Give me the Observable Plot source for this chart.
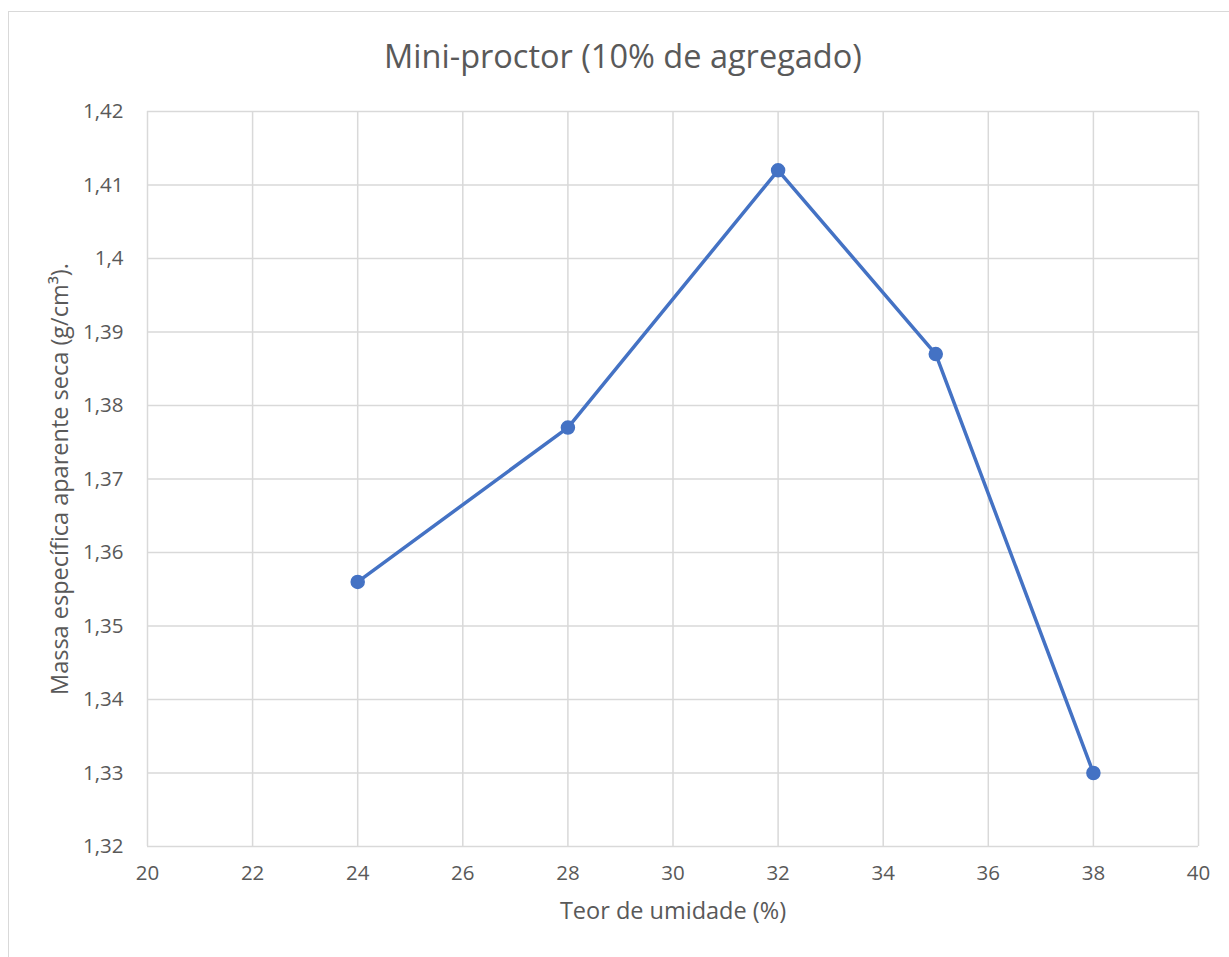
<!DOCTYPE html>
<html>
<head>
<meta charset="utf-8">
<script src="https://cdn.jsdelivr.net/npm/d3@7"></script>
<script src="https://cdn.jsdelivr.net/npm/@observablehq/plot@0.6"></script>
<style>
  html, body { margin: 0; padding: 0; background: #fff; overflow: hidden; }
  #wrap { position: relative; width: 1229px; height: 957px; font-family: "Open Sans", sans-serif; color: #595959; }
  #frame { position: absolute; left: 8px; top: 11px; width: 1240px; height: 970px; border: 1.5px solid #d9d9d9; box-sizing: border-box; }
  #title { position: absolute; left: 0; width: 1246px; top: 34px; text-align: center; font-size: 32.5px; line-height: 44px; color: #595959; }
  #chart { position: absolute; left: 0; top: 0; }
  #chart g[aria-label="x-axis tick label"] text,
  #chart g[aria-label="y-axis tick label"] text { font-size: 20.5px; }
</style>
</head>
<body>
<div id="wrap">
  <div id="frame"></div>
  <div id="chart"></div>
  <div id="title">Mini-proctor (10% de agregado)</div>
</div>
<script>
const moisture = [24, 28, 32, 35, 38];
const density = [1.356, 1.377, 1.412, 1.387, 1.330];
const xTicks = [20, 22, 24, 26, 28, 30, 32, 34, 36, 38, 40];
const yTicks = [1.32, 1.33, 1.34, 1.35, 1.36, 1.37, 1.38, 1.39, 1.40, 1.41, 1.42];

const data = moisture.map((m, i) => ({x: m, y: density[i]}));
const fmtY = d => (Math.round(d * 100) / 100).toString().replace(".", ",");
const color = "#4472C4";
const gridColor = "#d9d9d9";

const plot = Plot.plot({
  width: 1229,
  height: 957,
  marginLeft: 147,
  marginRight: 31,
  marginTop: 111,
  marginBottom: 111,
  style: { fontFamily: "Open Sans, sans-serif", fontSize: "20px", color: "#595959", background: "transparent" },
  x: { domain: [20, 40], ticks: xTicks, label: null },
  y: { domain: [1.32, 1.42], ticks: yTicks, label: null },
  marks: [
    Plot.gridX(xTicks, { stroke: gridColor, strokeOpacity: 1, strokeWidth: 1.5 }),
    Plot.gridY(yTicks, { stroke: gridColor, strokeOpacity: 1, strokeWidth: 1.5 }),
    Plot.axisX(xTicks, { tickSize: 0, tickPadding: 19, fontSize: 20.5, fill: "#595959", label: null }),
    Plot.axisY(yTicks, { tickSize: 0, tickPadding: 24, fontSize: 20.5, fill: "#595959", tickFormat: fmtY, label: null }),
    Plot.text(["Teor de umidade (%)"], { frameAnchor: "bottom", textAnchor: "middle", dy: 72, fontSize: 23.5, fill: "#595959" }),
    Plot.text(["Massa específica aparente seca (g/cm³)."], { frameAnchor: "left", textAnchor: "middle", dx: -87, rotate: -90, fontSize: 23.5, fill: "#595959" }),
    Plot.line(data, { x: "x", y: "y", stroke: color, strokeWidth: 3.5 }),
    Plot.dot(data, { x: "x", y: "y", r: 6.5, fill: color, stroke: color })
  ]
});
document.getElementById("chart").appendChild(plot);
</script>
</body>
</html>
